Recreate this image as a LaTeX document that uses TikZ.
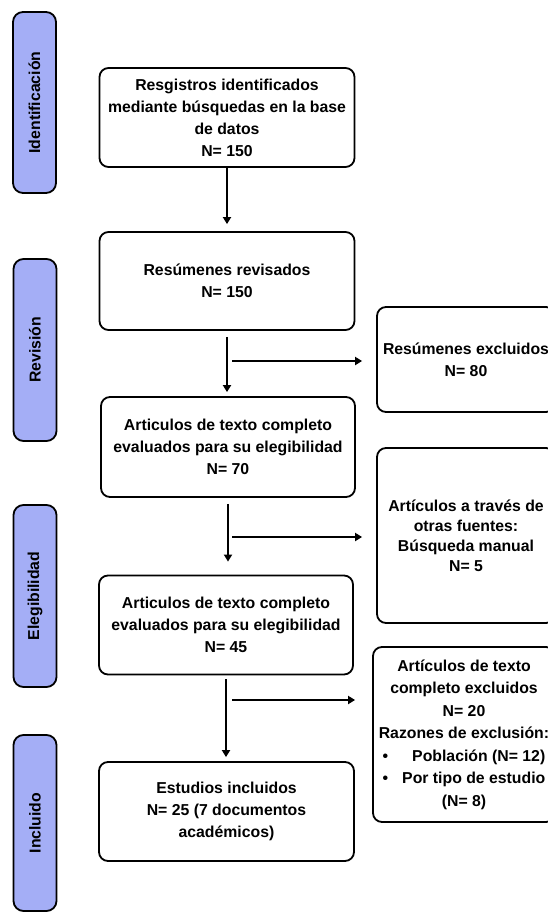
\documentclass[tikz,border=0pt]{standalone}
\usepackage{fontspec}
\setmainfont{Liberation Sans}
\usetikzlibrary{arrows.meta,calc}
\definecolor{barblue}{RGB}{164,174,246}
\begin{document}
\begin{tikzpicture}[x=1pt,y=-1pt,
  every node/.style={font=\bfseries\fontsize{15.8}{22}\selectfont, inner sep=0pt},
  bar/.style={draw=black, line width=1.8pt, fill=barblue, rounded corners=10pt, rotate=90, minimum height=43pt},
  box/.style={draw=black, line width=1.8pt, rounded corners=9pt, align=center},
  arr/.style={line width=1.8pt, -{Triangle[width=8pt,length=7pt]}}
]
\useasboundingbox (0,0) rectangle (548,912);
\clip (0,0) rectangle (548,912);

% phase bars
\node[bar, minimum width=181pt] (idbar)  at (34.5,102.5) {Identificación};
\node[bar, minimum width=182pt] (revbar) at (35,350) {Revisión};
\node[bar, minimum width=182pt] (elbar)  at (35,596) {Elegibilidad};
\node[bar, minimum width=176pt] (incbar) at (35,823) {Incluido};

% main column
\node[box, minimum width=255pt, minimum height=99pt]  (b1) at (227,117.5)
  {Resgistros identificados\\mediante búsquedas en la base\\de datos\\N= 150};
\node[box, minimum width=255pt, minimum height=98pt]  (b2) at (227,281)
  {Resúmenes revisados\\N= 150};
\node[box, minimum width=254pt, minimum height=100pt] (b3) at (228,447)
  {Articulos de texto completo\\evaluados para su elegibilidad\\N= 70};
\node[box, minimum width=254pt, minimum height=99pt]  (b4) at (226,625)
  {Articulos de texto completo\\evaluados para su elegibilidad\\N= 45};
\node[box, minimum width=255pt, minimum height=99pt]  (b5) at (226.5,811.5)
  {Estudios incluidos\\N= 25 (7 documentos\\académicos)};

% right column (cut by the page edge)
\node[box, minimum width=178pt, minimum height=105pt] (r1) at (466,359.5)
  {Resúmenes excluidos\\N= 80};
\node[box, minimum width=178pt, minimum height=175pt, font=\bfseries\fontsize{15.8}{20}\selectfont] (r2) at (466,535.5)
  {Artículos a través de\\otras fuentes:\\Búsqueda manual\\N= 5};
\node[box, minimum width=182pt, minimum height=175pt, font=\bfseries\fontsize{15.8}{22.5}\selectfont] (r3) at (464,734.5)
  {Artículos de texto\\completo excluidos\\N= 20\\Razones de exclusión:\\•\hspace{24pt}Población (N= 12)\\•\hspace{14pt}Por tipo de estudio\\(N= 8)};

% vertical arrows
\draw[arr, shorten >=7pt] (b1.south) -- (b1.south |- b2.north);
\draw[arr, shorten <=6pt, shorten >=4pt] (b2.south) -- (b2.south |- b3.north);
\draw[arr, shorten <=6pt, shorten >=13pt] (b3.south) -- (b3.south |- b4.north);
\draw[arr, shorten <=4pt, shorten >=4pt] (b4.south) -- (b4.south |- b5.north);

% side arrows
\coordinate (s1) at (232,361);
\coordinate (s2) at (232,537);
\coordinate (s3) at (232,700);
\draw[arr, shorten >=14pt] (s1) -- (s1 -| r1.west);
\draw[arr, shorten >=14pt] (s2) -- (s2 -| r2.west);
\draw[arr, shorten >=17pt] (s3) -- (s3 -| r3.west);
\end{tikzpicture}
\end{document}
